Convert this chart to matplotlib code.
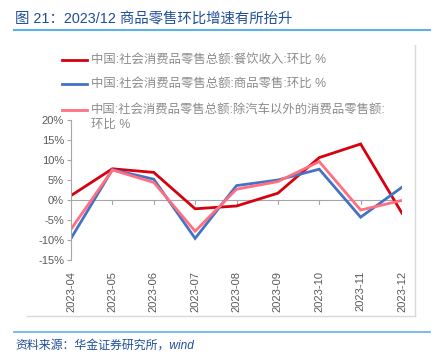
import matplotlib.pyplot as plt
import numpy as np
from matplotlib.lines import Line2D

plt.rcParams['font.family'] = ['Liberation Sans', 'Noto Sans CJK SC', 'DejaVu Sans']

# Monthly month-on-month growth (%)
months = ["2023-04", "2023-05", "2023-06", "2023-07", "2023-08",
          "2023-09", "2023-10", "2023-11", "2023-12"]
catering = [1.1, 7.8, 6.9, -2.2, -1.5, 1.7, 10.6, 14.0, -3.3]
goods = [-9.6, 7.6, 5.2, -9.6, 3.6, 5.0, 7.7, -4.3, 3.2]
ex_auto = [-7.3, 7.5, 4.4, -7.8, 2.7, 4.6, 9.6, -2.5, -0.1]

labels = [
    "中国:社会消费品零售总额:餐饮收入:环比 %",
    "中国:社会消费品零售总额:商品零售:环比 %",
    "中国:社会消费品零售总额:除汽车以外的消费品零售额:\n环比 %",
]
colors = ["#d7000f", "#4472c4", "#ff6f7f"]
y_ticks = [-15, -10, -5, 0, 5, 10, 15, 20]

W, H = 443, 361
fig = plt.figure(figsize=(W / 100, H / 100), dpi=100)
ax = fig.add_axes([71 / W, 1 - 260 / H, (402 - 71) / W, 140 / H])

x = np.arange(len(months))
for vals, c in zip([catering, goods, ex_auto], colors):
    ax.plot(x, vals, color=c, linewidth=2, solid_joinstyle='miter')

ax.set_xlim(0, len(months) - 1)
ax.set_ylim(-15, 20)
ax.set_yticks(y_ticks)
ax.set_yticklabels([f"{v}%" for v in y_ticks])
ax.set_xticks(x)
ax.set_xticklabels(months, rotation=90)

for s in ['top', 'right', 'bottom']:
    ax.spines[s].set_visible(False)
ax.spines['left'].set_color('#a6a6a6')
ax.spines['left'].set_linewidth(0.8)
ax.tick_params(axis='y', direction='out', length=3, color='#a6a6a6',
               labelsize=8, labelcolor='#595959', pad=2)
ax.tick_params(axis='x', length=0, labelsize=8, labelcolor='#595959', pad=8)

# zero line with small ticks
ax.axhline(0, color='#a6a6a6', linewidth=0.8, zorder=0)
for xi in x:
    ax.plot([xi, xi], [0, -0.9], color='#a6a6a6', linewidth=0.8, zorder=0)

# legend drawn by hand
rows_y = [60, 84, 110]
for lab, c, ry in zip(labels, colors, rows_y):
    fig.add_artist(Line2D([62 / W, 87 / W], [1 - ry / H, 1 - ry / H],
                          color=c, linewidth=2, transform=fig.transFigure))
    fig.text(91 / W, 1 - (ry - 6.5) / H, lab, fontsize=8.9, color='#8c8c8c',
             va='top', ha='left', linespacing=1.35)

# frame shadow lines
fig.add_artist(Line2D([415 / W, 415 / W], [1 - 45 / H, 1 - 316 / H],
                      color='#d9d9d9', linewidth=1, transform=fig.transFigure))
fig.add_artist(Line2D([27 / W, 415 / W], [1 - 316 / H, 1 - 316 / H],
                      color='#d9d9d9', linewidth=1, transform=fig.transFigure))

# title and source
fig.text(15 / W, 1 - 19 / H, "图 21：2023/12 商品零售环比增速有所抬升", fontsize=10.4,
         color='#1f4e9a', va='center', ha='left')
fig.add_artist(Line2D([14 / W, 430 / W], [1 - 30 / H, 1 - 30 / H],
                      color='#5fb0e5', linewidth=1.5, transform=fig.transFigure))
fig.add_artist(Line2D([14 / W, 430 / W], [1 - 332 / H, 1 - 332 / H],
                      color='#5fb0e5', linewidth=1.2, transform=fig.transFigure))
fig.text(15 / W, 1 - 346 / H, "资料来源：华金证券研究所，wind", fontsize=8.6,
         color='#1f4e9a', va='center', ha='left', style='italic')

fig.savefig('out.png', dpi=100)
